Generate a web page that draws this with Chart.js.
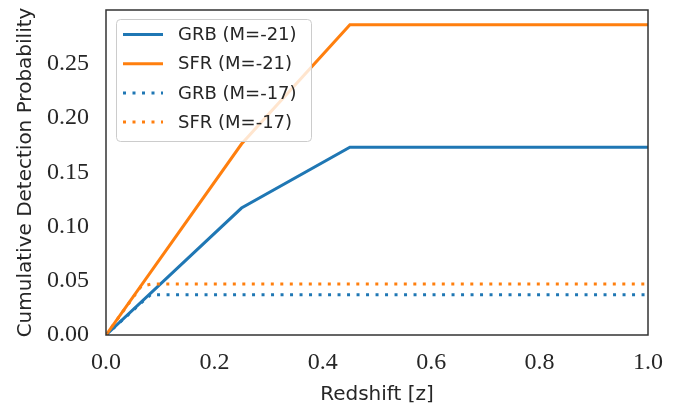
<!DOCTYPE html>
<html>
<head>
<meta charset="utf-8">
<script src="https://cdn.jsdelivr.net/npm/chart.js@4.4.0/dist/chart.umd.min.js"></script>
<style>
  html, body { margin: 0; padding: 0; background: #fff; }
  #wrap { width: 687px; height: 414px; }
</style>
</head>
<body>
<div id="wrap"><canvas id="chart" width="687" height="414"></canvas></div>
<script>
// values
const grbBrightZ = [0, 0.25, 0.45, 1.0];
const grbBrightP = [0, 0.117, 0.173, 0.173];
const sfrBrightZ = [0, 0.25, 0.45, 1.0];
const sfrBrightP = [0, 0.176, 0.286, 0.286];
const grbFaintZ = [0, 0.068, 0.082, 1.0];
const grbFaintP = [0, 0.031, 0.037, 0.037];
const sfrFaintZ = [0, 0.065, 0.085, 1.0];
const sfrFaintP = [0, 0.045, 0.047, 0.047];

const seriesLabels = ['GRB (M=-21)', 'SFR (M=-21)', 'GRB (M=-17)', 'SFR (M=-17)'];
const xTicks = [0, 0.2, 0.4, 0.6, 0.8, 1.0];
const yTicks = [0, 0.05, 0.10, 0.15, 0.20, 0.25];

const BLUE = '#1f77b4';
const ORANGE = '#ff7f0e';
const TEXT = '#262626';
const DOTS = [3, 6.5];

function toPoints(xs, ys) {
    return xs.map((x, i) => ({ x: x, y: ys[i] }));
}

function makeSet(label, xs, ys, color, dash, order) {
    return {
        label: label,
        data: toPoints(xs, ys),
        borderColor: color,
        backgroundColor: color,
        borderWidth: 3,
        borderDash: dash,
        borderCapStyle: 'butt',
        pointRadius: 0,
        tension: 0,
        fill: false,
        order: order,
    };
}

const framePlugin = {
    id: 'frame',
    afterDatasetsDraw(chart) {
        const { ctx, chartArea: a } = chart;
        ctx.save();
        ctx.strokeStyle = '#333333';
        ctx.lineWidth = 1.5;
        ctx.strokeRect(a.left, a.top, a.right - a.left, a.bottom - a.top);
        ctx.restore();
    }
};

const insideLegend = {
    id: 'insideLegend',
    afterDraw(chart) {
        const { ctx, chartArea: a } = chart;
        const x0 = a.left + 10;
        const y0 = a.top + 9;
        const w = 195;
        const h = 122;
        ctx.save();
        ctx.beginPath();
        ctx.roundRect(x0 + 0.5, y0 + 0.5, w, h, 4);
        ctx.fillStyle = 'rgba(255,255,255,0.8)';
        ctx.fill();
        ctx.strokeStyle = '#cccccc';
        ctx.lineWidth = 1;
        ctx.stroke();

        ctx.font = '18px "DejaVu Sans"';
        ctx.textBaseline = 'middle';
        ctx.fillStyle = TEXT;
        chart.data.datasets.forEach((ds, i) => {
            const y = y0 + 15.5 + i * 29.2;
            ctx.beginPath();
            ctx.setLineDash(ds.borderDash || []);
            ctx.lineCap = 'butt';
            ctx.strokeStyle = ds.borderColor;
            ctx.lineWidth = 3;
            ctx.moveTo(x0 + 7, y);
            ctx.lineTo(x0 + 47, y);
            ctx.stroke();
            ctx.setLineDash([]);
            ctx.fillText(ds.label, x0 + 62, y + 1);
        });
        ctx.restore();
    }
};

const chart = new Chart(document.getElementById('chart'), {
    type: 'line',
    data: {
        datasets: [
            makeSet(seriesLabels[0], grbBrightZ, grbBrightP, BLUE, [], 4),
            makeSet(seriesLabels[1], sfrBrightZ, sfrBrightP, ORANGE, [], 3),
            makeSet(seriesLabels[2], grbFaintZ, grbFaintP, BLUE, DOTS, 2),
            makeSet(seriesLabels[3], sfrFaintZ, sfrFaintP, ORANGE, DOTS, 1),
        ],
    },
    options: {
        responsive: false,
        animation: false,
        devicePixelRatio: 1,
        layout: { padding: { left: 0, right: 39, top: 10, bottom: 0 } },
        plugins: {
            legend: { display: false },
            tooltip: { enabled: false },
        },
        scales: {
            x: {
                type: 'linear',
                min: 0,
                max: 1,
                grid: { display: false, drawTicks: false },
                border: { display: false },
                afterBuildTicks: (axis) => { axis.ticks = xTicks.map(v => ({ value: v })); },
                afterFit: (axis) => {
                    axis.height = 79;
                    axis.paddingLeft = 0;
                    axis.paddingRight = 0;
                },
                ticks: {
                    padding: 13,
                    color: TEXT,
                    font: { family: '"Liberation Serif"', size: 24 },
                    maxRotation: 0,
                    callback: (v) => Number(v).toFixed(1),
                },
                title: {
                    display: true,
                    text: 'Redshift [z]',
                    color: TEXT,
                    font: { family: '"DejaVu Sans"', size: 20 },
                    padding: { top: 0, bottom: 7 },
                },
            },
            y: {
                type: 'linear',
                min: 0,
                max: 0.2995,
                grid: { display: false, drawTicks: false },
                border: { display: false },
                afterBuildTicks: (axis) => { axis.ticks = yTicks.map(v => ({ value: v })); },
                afterFit: (axis) => {
                    axis.width = 106;
                    axis.paddingTop = 0;
                    axis.paddingBottom = 0;
                },
                ticks: {
                    padding: 17,
                    color: TEXT,
                    font: { family: '"Liberation Serif"', size: 24 },
                    callback: (v) => Number(v).toFixed(2),
                },
                title: {
                    display: true,
                    text: 'Cumulative Detection Probability',
                    color: TEXT,
                    font: { family: '"DejaVu Sans"', size: 20 },
                    padding: { top: 14, bottom: 0 },
                },
            },
        },
    },
    plugins: [framePlugin, insideLegend],
});
</script>
</body>
</html>
